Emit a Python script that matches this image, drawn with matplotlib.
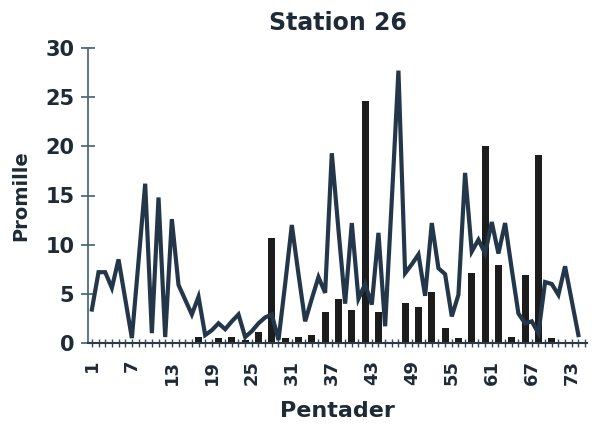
import matplotlib
matplotlib.use('Agg')
import matplotlib.pyplot as plt
import numpy as np

# pentader 1..74, promille (linje)
pentader = list(range(1, 75))
linje = [3.4, 7.2, 7.2, 5.6, 8.5, 4.5, 0.5, 8.3, 16.2, 1.0,
         14.8, 0.6, 12.6, 5.9, 4.4, 2.9, 4.7, 0.8, 1.3, 2.0,
         1.4, 2.2, 2.9, 0.6, 1.2, 2.0, 2.6, 2.9, 0.3, 6.0,
         12.0, 7.0, 2.2, 4.5, 6.7, 5.1, 19.3, 11.5, 4.0, 12.2,
         4.5, 6.0, 3.9, 11.2, 1.7, 14.5, 27.7, 7.1, 8.0, 9.0,
         4.8, 12.2, 7.6, 7.0, 2.7, 4.9, 17.3, 9.3, 10.5, 9.1,
         12.3, 9.1, 12.2, 7.5, 3.0, 2.0, 2.2, 1.0, 6.2, 6.0,
         4.9, 7.8, 4.3, 0.8]

# soejler
soejle_pentade = [17, 20, 22, 24, 26, 28, 30, 32, 34, 36, 38, 40, 42, 44,
                  48, 50, 52, 54, 56, 58, 60, 62, 64, 66, 68, 70]
soejle_vaerdi = [0.6, 0.5, 0.6, 0.3, 1.1, 10.7, 0.5, 0.6, 0.8, 3.1, 4.5, 3.4, 24.6, 3.2,
                 4.1, 3.7, 5.2, 1.5, 0.5, 7.1, 20.0, 7.9, 0.6, 6.9, 19.1, 0.5]

x_labels = list(range(1, 75, 6))

fig = plt.figure(figsize=(5.96, 4.25), dpi=100)
ax = fig.add_axes([0.148, 0.193, 0.837, 0.694])

ax.bar(soejle_pentade, soejle_vaerdi, width=1.05, color='#1c1c1c', zorder=2)
ax.plot(pentader, linje, color='#24374a', lw=3.0, solid_joinstyle='miter', zorder=3)

ax.set_xlim(0.45, 75.3)
ax.set_ylim(0, 30)
ax.set_yticks(range(0, 31, 5))
ax.set_xticks(x_labels)
ax.set_xticks(range(1, 76), minor=True)

for s in ['top', 'right']:
    ax.spines[s].set_visible(False)
ax.spines['left'].set_color('#4d6b80')
ax.spines['left'].set_linewidth(1.3)
ax.spines['bottom'].set_color('#2a3a48')
ax.spines['bottom'].set_linewidth(1.5)

ax.tick_params(axis='y', direction='inout', length=10, width=1.3, color='#4d6b80',
               labelsize=15, pad=5)
ax.tick_params(axis='x', which='both', direction='inout', length=6, width=1.0,
               color='#3a4a58', labelsize=13, pad=9, labelrotation=90)
for lab in ax.get_xticklabels() + ax.get_yticklabels():
    lab.set_fontweight('bold')
    lab.set_color('#1e2a36')

ax.set_title('Station 26', fontsize=17, fontweight='bold', color='#1e2a36', pad=13)
ax.set_ylabel('Promille', fontsize=14, fontweight='bold', color='#1e2a36', labelpad=11)
ax.set_xlabel('Pentader', fontsize=16, fontweight='bold', color='#1e2a36', labelpad=12)

fig.savefig('out.png', dpi=100)
